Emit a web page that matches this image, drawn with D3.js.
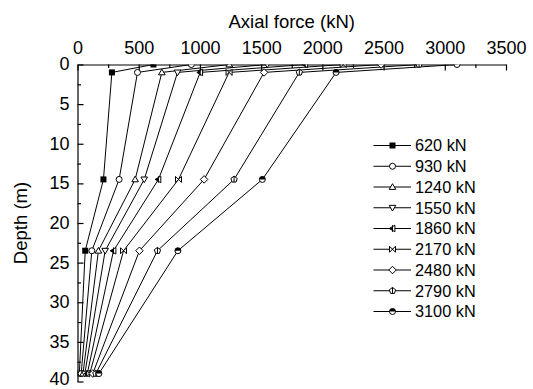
<!DOCTYPE html>
<html>
<head>
<meta charset="utf-8">
<script src="https://cdn.jsdelivr.net/npm/d3@7"></script>
<style>
  body { margin: 0; background: #fff; }
  svg { font-family: "Liberation Sans", Arial, sans-serif; }
</style>
</head>
<body>
<div id="chart"></div>
<script>
// depth of the measuring points (m)
var depths = [0, 1, 14.5, 23.5, 39];
var loadLabels = ["620 kN", "930 kN", "1240 kN", "1550 kN", "1860 kN", "2170 kN", "2480 kN", "2790 kN", "3100 kN"];
// axial force at each depth (kN), one array per applied load
var s620 = [620, 281, 212, 63, 15];
var s930 = [930, 490, 340, 117, 30];
var s1240 = [1240, 689, 471, 171, 45];
var s1550 = [1550, 817, 545, 226, 60];
var s1860 = [1860, 1002, 661, 294, 80];
var s2170 = [2170, 1238, 825, 376, 100];
var s2480 = [2480, 1524, 1034, 506, 125];
var s2790 = [2790, 1812, 1279, 653, 150];
var s3100 = [3100, 2112, 1510, 820, 175];
var xTicks = [0, 500, 1000, 1500, 2000, 2500, 3000, 3500];
var yTicks = [0, 5, 10, 15, 20, 25, 30, 35, 40];

var allSeries = [s620, s930, s1240, s1550, s1860, s2170, s2480, s2790, s3100];
var markers = ["square", "circle", "up", "down", "left", "bowtie", "diamond", "pentagon", "halfcircle"];

var width = 533, height = 389;
var svg = d3.select("#chart").append("svg")
  .attr("width", width)
  .attr("height", height);

var x = d3.scaleLinear().domain([0, 3500]).range([77.5, 506]);
var y = d3.scaleLinear().domain([0, 40]).range([64.5, 381.5]);

svg.append("clipPath").attr("id", "plotclip")
  .append("rect")
  .attr("x", x(0)).attr("y", y(0))
  .attr("width", x(3500) - x(0) + 10).attr("height", y(40) - y(0) + 10);

// axes
var fmt = d3.format("d");
var xAxis = svg.append("g")
  .attr("transform", "translate(0," + y(0) + ")")
  .call(d3.axisTop(x).tickValues(xTicks).tickFormat(fmt).tickSizeInner(-6).tickSizeOuter(0).tickPadding(11));
var xMinor = svg.append("g")
  .attr("transform", "translate(0," + y(0) + ")")
  .call(d3.axisTop(x).tickValues(d3.range(250, 3500, 500)).tickSizeInner(-3.5).tickSizeOuter(0).tickFormat(""));
var yAxis = svg.append("g")
  .attr("transform", "translate(" + x(0) + ",0)")
  .call(d3.axisLeft(y).tickValues(yTicks).tickFormat(fmt).tickSizeInner(-6).tickSizeOuter(0).tickPadding(8));
var yMinor = svg.append("g")
  .attr("transform", "translate(" + x(0) + ",0)")
  .call(d3.axisLeft(y).tickValues(d3.range(2.5, 40, 5)).tickSizeInner(-3.5).tickSizeOuter(0).tickFormat(""));

[xAxis, xMinor, yAxis, yMinor].forEach(function(g) {
  g.selectAll("path, line").attr("stroke", "#000").attr("stroke-width", 1.2);
  g.selectAll("text").attr("fill", "#000").style("font-size", "18px").style("font-family", null);
});
yAxis.selectAll("text").attr("dy", function(d) { return d === 40 ? "0.16em" : "0.3em"; });
xMinor.select(".domain").remove();
yMinor.select(".domain").remove();

svg.append("text")
  .attr("x", (x(0) + x(3500)) / 2)
  .attr("y", 28)
  .attr("text-anchor", "middle")
  .style("font-size", "18.5px")
  .text("Axial force (kN)");

svg.append("text")
  .attr("transform", "translate(26.5," + (y(0) + y(40)) / 2 + ") rotate(-90)")
  .attr("text-anchor", "middle")
  .style("font-size", "18.5px")
  .text("Depth (m)");

// marker drawing
function drawMarker(g, type, r) {
  var sw = 1;
  if (type === "square") {
    g.append("rect").attr("x", -r).attr("y", -r).attr("width", 2 * r).attr("height", 2 * r)
      .attr("fill", "#000");
  } else if (type === "circle") {
    g.append("circle").attr("r", r).attr("fill", "#fff").attr("stroke", "#000").attr("stroke-width", sw);
  } else if (type === "up") {
    g.append("path").attr("d", "M0," + (-r * 1.1) + "L" + r * 1.1 + "," + r * 0.8 + "L" + (-r * 1.1) + "," + r * 0.8 + "Z")
      .attr("fill", "#fff").attr("stroke", "#000").attr("stroke-width", sw);
  } else if (type === "down") {
    g.append("path").attr("d", "M0," + (r * 1.1) + "L" + r * 1.1 + "," + (-r * 0.8) + "L" + (-r * 1.1) + "," + (-r * 0.8) + "Z")
      .attr("fill", "#fff").attr("stroke", "#000").attr("stroke-width", sw);
  } else if (type === "left") {
    g.append("path").attr("d", "M" + (-r * 1.1) + ",0L" + r * 0.8 + "," + (-r * 1.1) + "L" + r * 0.8 + "," + r * 1.1 + "Z")
      .attr("fill", "#fff").attr("stroke", "#000").attr("stroke-width", sw);
    g.append("path").attr("d", "M" + (-r * 1.1) + ",0L0," + (-r * 0.6) + "L0," + r * 0.6 + "Z").attr("fill", "#000");
    g.append("line").attr("x1", 0).attr("x2", 0).attr("y1", -r * 1.1).attr("y2", r * 1.1)
      .attr("stroke", "#000").attr("stroke-width", sw);
  } else if (type === "bowtie") {
    g.append("path").attr("d", "M" + (-r) + "," + (-r) + "L" + r + "," + r + "L" + r + "," + (-r) + "L" + (-r) + "," + r + "Z")
      .attr("fill", "#fff").attr("stroke", "#000").attr("stroke-width", sw);
  } else if (type === "diamond") {
    var d = r * 1.25;
    g.append("path").attr("d", "M0," + (-d) + "L" + d + ",0L0," + d + "L" + (-d) + ",0Z")
      .attr("fill", "#fff").attr("stroke", "#000").attr("stroke-width", sw);
  } else if (type === "pentagon") {
    var pts = d3.range(5).map(function(i) {
      var a = -Math.PI / 2 + i * 2 * Math.PI / 5;
      return [r * 1.1 * Math.cos(a), r * 1.1 * Math.sin(a)];
    });
    g.append("path").attr("d", "M" + pts.join("L") + "Z")
      .attr("fill", "#fff").attr("stroke", "#000").attr("stroke-width", sw);
    g.append("line").attr("x1", 0).attr("x2", 0).attr("y1", -r * 1.1).attr("y2", r * 0.9)
      .attr("stroke", "#000").attr("stroke-width", sw);
  } else if (type === "halfcircle") {
    g.append("circle").attr("r", r).attr("fill", "#fff").attr("stroke", "#000").attr("stroke-width", sw);
    g.append("path").attr("d", "M" + (-r) + ",0A" + r + "," + r + " 0 0 1 " + r + ",0Z").attr("fill", "#000");
  }
}

var line = d3.line()
  .x(function(d) { return x(d[0]); })
  .y(function(d) { return y(d[1]); });

var plot = svg.append("g").attr("clip-path", "url(#plotclip)");

allSeries.forEach(function(vals, i) {
  var pts = vals.map(function(v, j) { return [v, depths[j]]; });
  plot.append("path")
    .datum(pts)
    .attr("d", line)
    .attr("fill", "none")
    .attr("stroke", "#000")
    .attr("stroke-width", 1);
});

allSeries.forEach(function(vals, i) {
  vals.forEach(function(v, j) {
    var g = plot.append("g").attr("transform", "translate(" + x(v) + "," + y(depths[j]) + ")");
    drawMarker(g, markers[i], 3);
  });
});

// legend
var legend = svg.append("g");
loadLabels.forEach(function(lab, i) {
  var ly = 145.5 + i * 20.75;
  var g = legend.append("g").attr("transform", "translate(0," + ly + ")");
  g.append("line").attr("x1", 373.5).attr("x2", 411).attr("y1", 0).attr("y2", 0)
    .attr("stroke", "#000").attr("stroke-width", 1);
  drawMarker(g.append("g").attr("transform", "translate(392.5,0)"), markers[i], 3);
  g.append("text").attr("x", 415).attr("y", 0).attr("dy", "0.36em")
    .style("font-size", "16.3px").text(lab);
});
</script>
</body>
</html>
